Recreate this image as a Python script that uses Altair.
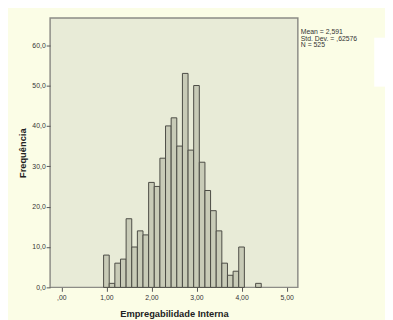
import altair as alt
import pandas as pd

bin_centers = [1.0, 1.125, 1.25, 1.375, 1.5, 1.625, 1.75, 1.875, 2.0, 2.125,
               2.25, 2.375, 2.5, 2.625, 2.75, 2.875, 3.0, 3.125, 3.25, 3.375,
               3.5, 3.625, 3.75, 3.875, 4.0, 4.375]
counts = [8, 1, 6, 7, 17, 10, 14, 13, 26, 25,
          32, 40, 42, 35, 53, 34, 50, 31, 24, 19,
          14, 6, 3, 4, 10, 1]
bin_width = 0.125
stats_lines = ["Mean = 2,591", "Std. Dev. = ,62576", "N = 525"]
x_title = "Empregabilidade Interna"
y_title = "Frequência"

df = pd.DataFrame({"center": bin_centers, "count": counts})
df["x0"] = df["center"] - bin_width / 2
df["x1"] = df["center"] + bin_width / 2
df["zero"] = 0

W, H = 253, 275
FONT = "Liberation Sans"

xscale = alt.Scale(domain=[-0.25, 5.25], nice=False, zero=False)
yscale = alt.Scale(domain=[0, 66.7], nice=False)

bars = alt.Chart(df).mark_bar(
    fill="#c8cbb7", stroke="#4a4a44", strokeWidth=1
).encode(
    x=alt.X("x0:Q", scale=xscale, title=x_title,
            axis=alt.Axis(values=[0, 1, 2, 3, 4, 5],
                          labelExpr="datum.value == 0 ? ',00' : replace(format(datum.value, '.2f'), '.', ',')",
                          grid=False, domain=False, tickColor="#555", tickSize=4,
                          labelFont=FONT, labelFontSize=7, labelColor="#333",
                          labelPadding=2, titleFont=FONT, titleFontSize=9.5,
                          titleFontWeight="bold", titleColor="#222", titlePadding=9)),
    x2="x1:Q",
    y=alt.Y("count:Q", scale=yscale, title=y_title,
            axis=alt.Axis(values=[0, 10, 20, 30, 40, 50, 60],
                          labelExpr="replace(format(datum.value, '.1f'), '.', ',')",
                          grid=False, domain=False, tickColor="#555", tickSize=4,
                          labelFont=FONT, labelFontSize=7, labelColor="#333",
                          labelPadding=1, titleFont=FONT, titleFontSize=9.5,
                          titleFontWeight="bold", titleColor="#222", titlePadding=5)),
    y2="zero:Q",
)

stats_df = pd.DataFrame({"txt": ["\n".join(stats_lines)]})
stats = alt.Chart(stats_df).mark_text(
    align="left", baseline="top", font=FONT, fontSize=7, color="#333",
    lineBreak="\n", lineHeight=7
).encode(
    x=alt.value(W + 3),
    y=alt.value(10),
    text="txt:N",
)

white_patch = alt.Chart(pd.DataFrame({"a": [0]})).mark_rect(color="white").encode(
    x=alt.value(331), x2=alt.value(345), y=alt.value(20), y2=alt.value(70)
)

chart = alt.layer(bars, stats, white_patch).properties(
    width=W, height=H,
    background="#fbfde6",
    padding={"left": 43, "top": 7, "right": 89, "bottom": 30},
    autosize=alt.AutoSizeParams(type="none"),
).configure_view(
    fill="#e8ebd7", stroke="#8c8c86", strokeWidth=1.5
)

chart.save("out.html", embed_options={"renderer": "svg", "actions": False})
